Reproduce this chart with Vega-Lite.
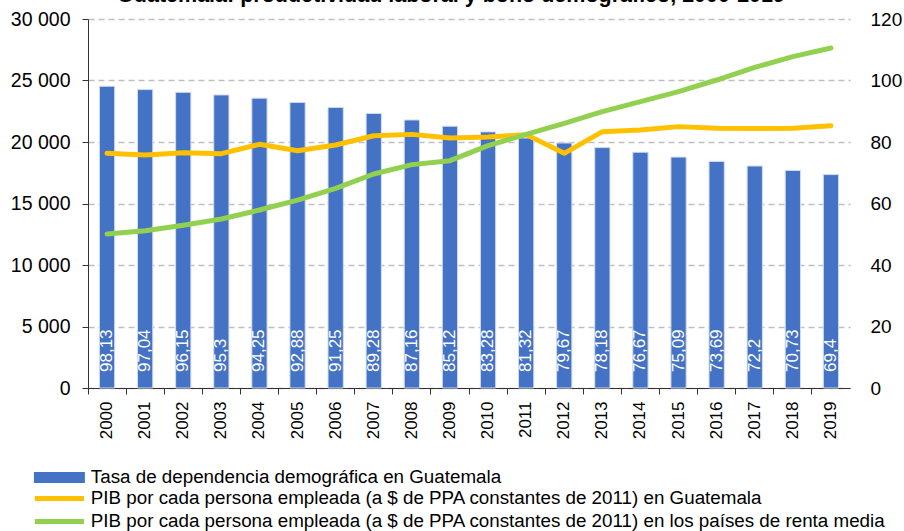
{
  "$schema": "https://vega.github.io/schema/vega-lite/v6.json",
  "autosize": "none",
  "width": 762,
  "height": 369,
  "padding": {"left": 88, "top": 19, "right": 54, "bottom": 143},
  "background": "white",
  "config": {
    "font": "Liberation Sans",
    "view": {"stroke": null},
    "locale": {"number": {"decimal": ",", "thousands": " ", "grouping": [3], "currency": ["", ""]}}
  },
  "title": {
    "text": "Guatemala: productividad laboral y bono demográfico, 2000-2019",
    "font": "Liberation Sans",
    "fontSize": 21.5,
    "fontWeight": "bold",
    "color": "black",
    "anchor": "middle",
    "frame": "bounds",
    "offset": 3,
    "dx": -5
  },
  "data": {
    "values": [
      {"year": "2000", "dep": 98.13, "gt": 19080, "mid": 12520},
      {"year": "2001", "dep": 97.04, "gt": 18940, "mid": 12790},
      {"year": "2002", "dep": 96.15, "gt": 19130, "mid": 13230},
      {"year": "2003", "dep": 95.3, "gt": 19050, "mid": 13740},
      {"year": "2004", "dep": 94.25, "gt": 19810, "mid": 14470},
      {"year": "2005", "dep": 92.88, "gt": 19290, "mid": 15280},
      {"year": "2006", "dep": 91.25, "gt": 19760, "mid": 16230},
      {"year": "2007", "dep": 89.28, "gt": 20510, "mid": 17400},
      {"year": "2008", "dep": 87.16, "gt": 20620, "mid": 18160},
      {"year": "2009", "dep": 85.12, "gt": 20320, "mid": 18480},
      {"year": "2010", "dep": 83.28, "gt": 20400, "mid": 19700},
      {"year": "2011", "dep": 81.32, "gt": 20600, "mid": 20620},
      {"year": "2012", "dep": 79.67, "gt": 19080, "mid": 21510},
      {"year": "2013", "dep": 78.18, "gt": 20840, "mid": 22470},
      {"year": "2014", "dep": 76.67, "gt": 20980, "mid": 23280},
      {"year": "2015", "dep": 75.09, "gt": 21250, "mid": 24090},
      {"year": "2016", "dep": 73.69, "gt": 21110, "mid": 25040},
      {"year": "2017", "dep": 72.2, "gt": 21100, "mid": 26070},
      {"year": "2018", "dep": 70.73, "gt": 21120, "mid": 26940},
      {"year": "2019", "dep": 69.4, "gt": 21330, "mid": 27640}
    ]
  },
  "encoding": {
    "x": {
      "field": "year",
      "type": "ordinal",
      "scale": {"paddingInner": 0, "paddingOuter": 0},
      "axis": {
        "title": null,
        "bandPosition": 0,
        "labelAngle": 270,
        "labelAlign": "right",
        "labelBaseline": "middle",
        "labelFontSize": 17,
        "labelColor": "black",
        "labelPadding": 7,
        "domainColor": "#333333",
        "tickColor": "#333333",
        "tickSize": 6,
        "grid": false
      }
    }
  },
  "layer": [
    {
      "layer": [
        {
          "mark": {"type": "bar", "width": {"band": 0.4}, "stroke": "#d0dbf0", "strokeWidth": 1},
          "encoding": {
            "y": {
              "field": "dep",
              "type": "quantitative",
              "scale": {"domain": [0, 120]},
              "axis": {
                "orient": "right",
                "title": null,
                "values": [0, 20, 40, 60, 80, 100, 120],
                "domain": false,
                "ticks": false,
                "grid": false,
                "labelFontSize": 19,
                "labelColor": "black",
                "labelPadding": 20
              }
            },
            "fill": {
              "datum": "Tasa de dependencia demográfica en Guatemala",
              "type": "nominal",
              "scale": {"range": ["#4472C4"]},
              "legend": {
                "orient": "none",
                "legendX": -38,
                "legendY": 449,
                "title": null,
                "symbolType": "M-4.25,-0.92H4.25V0.92H-4.25Z",
                "symbolSize": 144,
                "symbolStrokeWidth": 0,
                "labelOffset": 22,
                "labelFontSize": 18.8,
                "labelColor": "black",
                "labelLimit": 900
              }
            }
          }
        },
        {
          "mark": {"type": "text", "angle": 270, "align": "left", "baseline": "middle", "dx": 16, "color": "white", "fontSize": 17},
          "encoding": {
            "y": {"datum": 0, "type": "quantitative"},
            "text": {"field": "dep", "type": "quantitative"}
          }
        }
      ]
    },
    {
      "transform": [
        {"fold": ["gt", "mid"], "as": ["key", "val"]},
        {"lookup": "key", "from": {"data": {"values": [
          {"key": "gt", "series": "PIB por cada persona empleada (a $ de PPA constantes de 2011) en Guatemala"},
          {"key": "mid", "series": "PIB por cada persona empleada (a $ de PPA constantes de 2011) en los países de renta media"}
        ]}, "key": "key", "fields": ["series"]}}
      ],
      "mark": {"type": "line", "strokeWidth": 5, "strokeCap": "round", "strokeJoin": "round"},
      "encoding": {
        "y": {
          "field": "val",
          "type": "quantitative",
          "scale": {"domain": [0, 30000]},
          "axis": {
            "orient": "left",
            "title": null,
            "values": [0, 5000, 10000, 15000, 20000, 25000, 30000],
            "format": ",.0f",
            "labelFontSize": 19.5,
            "labelColor": "black",
            "labelPadding": 12,
            "domainColor": "#333333",
            "tickColor": "#333333",
            "tickSize": 6,
            "grid": true,
            "gridColor": "#bfbfbf",
            "gridDash": [6, 4],
            "gridWidth": 1.5
          }
        },
        "stroke": {
          "field": "series",
          "type": "nominal",
          "scale": {
            "domain": [
              "PIB por cada persona empleada (a $ de PPA constantes de 2011) en Guatemala",
              "PIB por cada persona empleada (a $ de PPA constantes de 2011) en los países de renta media"
            ],
            "range": ["#FFC000", "#92D050"]
          },
          "legend": {
            "orient": "none",
            "legendX": -38,
            "legendY": 470,
            "title": null,
            "symbolType": "M-4.1,0H4.1",
            "symbolSize": 144,
            "symbolStrokeWidth": 5,
            "labelOffset": 22,
            "labelFontSize": 18.8,
            "labelColor": "black",
            "labelLimit": 900,
            "rowPadding": 2
          }
        }
      }
    }
  ],
  "resolve": {"scale": {"y": "independent"}}
}
